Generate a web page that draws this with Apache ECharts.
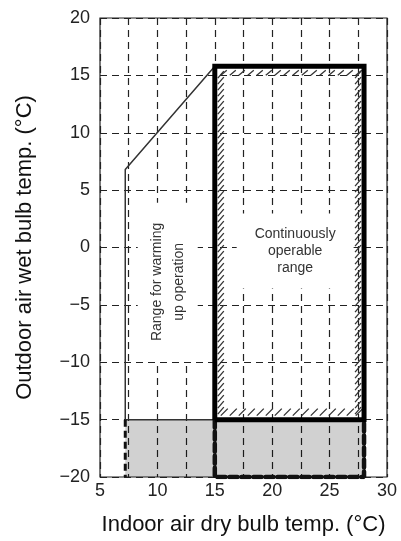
<!DOCTYPE html>
<html>
<head>
<meta charset="utf-8">
<script src="https://cdn.jsdelivr.net/npm/echarts@6/dist/echarts.min.js"></script>
<style>
  html, body { margin: 0; padding: 0; background: #fff; }
  #main { width: 401px; height: 541px; }
</style>
</head>
<body>
<div id="main"></div>
<script>
// tick labels
var xTickLabels = [5, 10, 15, 20, 25, 30];
var yTickLabels = [-20, -15, -10, -5, 0, 5, 10, 15, 20];

// outlines (x = indoor dry bulb, y = outdoor wet bulb)
var warmupOutline = [[7.2, -15], [7.2, 6.8], [15, 15.8]];
var warmupBase = [[7.2, -15], [15, -15]];
var continuousBox = [[15, -15], [15, 15.8], [28, 15.8], [28, -15], [15, -15]];
var lowTempArea = [[7.2, -20, 28, -15]];
var lowTempLeft = [[7.2, -15], [7.2, -20]];
var lowTempBox = [[15, -15], [15, -20], [28, -20], [28, -15]];

// region captions: x, y, rotation
var captionPos = [[10.9, -3.0, 90], [22.0, -0.3, 0]];
var captionText = ['Range for warming\nup operation', 'Continuously\noperable\nrange'];

var dom = document.getElementById('main');
var myChart = echarts.init(dom);

function minus(v) {
  return String(v).replace('-', '\u2212');
}

// hatching on the inside of the box
function renderHatch(params, api) {
  var tl = api.coord([api.value(0), api.value(3)]);
  var br = api.coord([api.value(2), api.value(1)]);
  var l = tl[0], t = tl[1], r = br[0], b = br[1];
  var kids = [];
  var style = { stroke: '#333', lineWidth: 1.3 };
  var y, x;
  for (y = t + 9; y < b - 6; y += 6) {
    kids.push({ type: 'line', shape: { x1: l + 3, y1: y + 3, x2: l + 9, y2: y - 4 }, style: style });
    kids.push({ type: 'line', shape: { x1: r - 9, y1: y + 3, x2: r - 3, y2: y - 4 }, style: style });
  }
  for (x = l + 6; x < r - 8; x += 9) {
    kids.push({ type: 'line', shape: { x1: x, y1: t + 9, x2: x + 6, y2: t + 4 }, style: style });
    kids.push({ type: 'line', shape: { x1: x, y1: b - 4, x2: x + 7, y2: b - 11 }, style: style });
  }
  return { type: 'group', children: kids };
}

function renderRect(params, api) {
  var tl = api.coord([api.value(0), api.value(3)]);
  var br = api.coord([api.value(2), api.value(1)]);
  return {
    type: 'rect',
    shape: { x: tl[0], y: tl[1], width: br[0] - tl[0], height: br[1] - tl[1] },
    style: { fill: 'rgba(0,0,0,0.18)' }
  };
}

function renderCaption(params, api) {
  var p = api.coord([api.value(0), api.value(1)]);
  var rot = api.value(2);
  return {
    type: 'text',
    x: p[0], y: p[1],
    rotation: rot * Math.PI / 180,
    style: {
      text: captionText[params.dataIndex],
      fill: '#333',
      font: '14px "Liberation Sans"',
      align: 'center',
      verticalAlign: 'middle',
      lineHeight: rot ? 22 : 17,
      backgroundColor: '#fff',
      padding: rot ? [8, 20, 8, 20] : [12, 18, 12, 18]
    }
  };
}

var option = {
  animation: false,
  textStyle: { fontFamily: 'Liberation Sans' },
  grid: {
    left: 100, right: 14, top: 18, bottom: 62,
    show: true, borderColor: '#222', borderWidth: 1.2
  },
  xAxis: {
    type: 'value', min: 5, max: 30, interval: 2.5,
    name: 'Indoor air dry bulb temp. (\u00b0C)',
    nameLocation: 'middle', nameGap: 37,
    nameTextStyle: { fontSize: 22, color: '#111' },
    axisLine: { show: false },
    axisTick: { show: false },
    axisLabel: {
      fontSize: 18, color: '#222', margin: 5,
      formatter: function (v) { return xTickLabels.indexOf(v) >= 0 ? String(v) : ''; }
    },
    splitLine: { lineStyle: { type: [7, 5], color: '#222', width: 1.2 } }
  },
  yAxis: {
    type: 'value', min: -20, max: 20, interval: 5,
    name: 'Outdoor air wet bulb temp. (\u00b0C)',
    nameLocation: 'middle', nameGap: 64,
    nameTextStyle: { fontSize: 22, color: '#111' },
    axisLine: { show: false },
    axisTick: { show: false },
    axisLabel: {
      fontSize: 18, color: '#222', margin: 10,
      formatter: function (v) { return yTickLabels.indexOf(v) >= 0 ? minus(v) : ''; }
    },
    splitLine: { lineStyle: { type: [7, 5], color: '#222', width: 1.2 } }
  },
  series: [
    {
      type: 'custom', renderItem: renderRect, data: lowTempArea,
      encode: { x: [0, 2], y: [1, 3] }, z: 1, silent: true
    },
    {
      type: 'line', data: warmupOutline, showSymbol: false, z: 3,
      lineStyle: { color: '#333', width: 1.5 }
    },
    {
      type: 'line', data: warmupBase, showSymbol: false, z: 3,
      lineStyle: { color: '#333', width: 1.5 }
    },
    {
      type: 'line', data: lowTempLeft, showSymbol: false, z: 3,
      lineStyle: { color: '#111', width: 3, type: [7, 4] }
    },
    {
      type: 'line', data: lowTempBox, showSymbol: false, z: 3,
      lineStyle: { color: '#111', width: 4.5, type: [8, 4], cap: 'round' }
    },
    {
      type: 'custom', renderItem: renderCaption, data: captionPos,
      encode: { x: 0, y: 1 }, z: 4, silent: true
    },
    {
      type: 'custom', renderItem: renderHatch,
      data: [[15, -15, 28, 15.8]],
      encode: { x: [0, 2], y: [1, 3] }, z: 5, silent: true
    },
    {
      type: 'line', data: continuousBox, showSymbol: false, z: 6,
      lineStyle: { color: '#000', width: 5, join: 'miter' }
    }
  ]
};

if (option && typeof option === 'object') {
  myChart.setOption(option, true);
}
</script>
</body>
</html>
